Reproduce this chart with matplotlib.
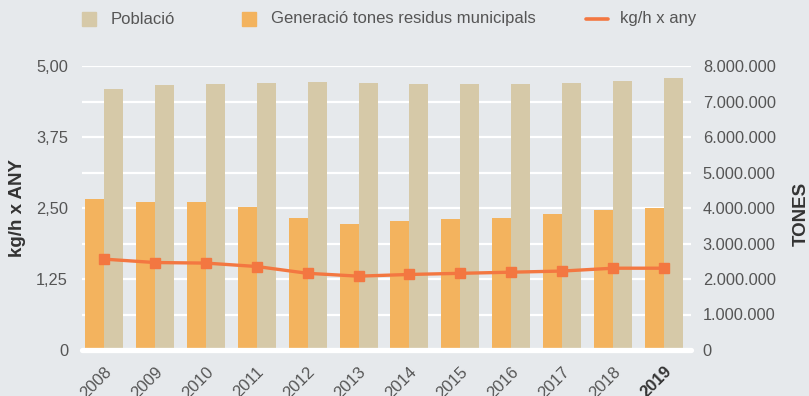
#!/usr/bin/env python

import matplotlib
matplotlib.use('Agg')
import matplotlib.pyplot as plt
import numpy as np

from matplotlib.patches import Rectangle
from matplotlib.lines import Line2D
from matplotlib.ticker import FuncFormatter

YEARS = ['2008', '2009', '2010', '2011', '2012', '2013',
         '2014', '2015', '2016', '2017', '2018', '2019']

# habitants
POBLACIO = [7350000, 7465000, 7490000, 7520000, 7550000, 7520000,
            7490000, 7490000, 7495000, 7520000, 7580000, 7660000]

# tones de residus municipals
RESIDUS = [4250000, 4170000, 4170000, 4030000, 3720000, 3550000,
           3630000, 3690000, 3720000, 3830000, 3940000, 4000000]

# kg/h x any
KG_HAB = [1.60, 1.54, 1.53, 1.47, 1.35, 1.30,
          1.33, 1.35, 1.37, 1.39, 1.44, 1.44]

LEFT_TICKS = [0, 1.25, 2.50, 3.75, 5.00]
RIGHT_TICKS = [0, 1e6, 2e6, 3e6, 4e6, 5e6, 6e6, 7e6, 8e6]

BG = '#e6e9ec'
BEIGE = '#d6c9a8'
ORANGE = '#f3b35e'
RED = '#f37741'
TEXT = '#555555'
FONT = 'Liberation Sans'

W, H = 809, 396


def px(x, y):
    """Pixel position (from top-left) to figure coordinates."""
    return x / W, 1 - y / H


def fmt_left(v, pos):
    if v == 0:
        return '0'
    return ('%.2f' % v).replace('.', ',')


def fmt_right(v, pos):
    return '{:,.0f}'.format(v).replace(',', '.')


def main():
    plt.rcParams['font.family'] = FONT

    fig = plt.figure(figsize=(W / 100, H / 100), dpi=100, facecolor=BG)
    ax2 = fig.add_axes([82 / W, 46 / H, 609 / W, 284 / H])
    ax = ax2.twinx()
    ax.set_zorder(ax2.get_zorder() + 1)
    ax.patch.set_visible(False)
    ax2.patch.set_visible(False)

    x = np.arange(len(YEARS))
    width = 0.373

    # gridlines and bars on the tones axis
    for v in RIGHT_TICKS[1:]:
        ax2.axhline(v, color='white', lw=1.6, zorder=0)
    ax2.bar(x - width / 2, RESIDUS, width, color=ORANGE, zorder=2)
    ax2.bar(x + width / 2, POBLACIO, width, color=BEIGE, zorder=2)

    # kg per habitant line
    ax.plot(x, KG_HAB, color=RED, lw=2.4, marker='s', markersize=7.5,
            zorder=5)
    ax.axhline(0, color='white', lw=3.8, solid_capstyle='round',
               clip_on=False, zorder=4)

    for a in (ax, ax2):
        for s in a.spines.values():
            s.set_visible(False)
        a.set_xlim(-0.432, 11.53)

    ax.set_ylim(0, 5)
    ax2.set_ylim(0, 8e6)

    # left axis lives on the twin (right side by default), move it
    ax.yaxis.tick_left()
    ax2.yaxis.tick_right()
    ax.set_yticks(LEFT_TICKS)
    ax.yaxis.set_major_formatter(FuncFormatter(fmt_left))
    ax2.set_yticks(RIGHT_TICKS)
    ax2.yaxis.set_major_formatter(FuncFormatter(fmt_right))
    ax.tick_params(axis='y', length=0, pad=10, labelsize=11.8,
                   labelcolor=TEXT)
    ax2.tick_params(axis='y', length=0, pad=8.5, labelsize=11.8,
                    labelcolor=TEXT)

    ax.set_xticks([])
    ax2.set_xticks(x + 0.2)
    ax2.set_xticklabels(YEARS, rotation=45, ha='right', va='top')
    ax2.tick_params(axis='x', length=0, pad=10, labelsize=12,
                    labelcolor=TEXT)
    last = ax2.get_xticklabels()[-1]
    last.set_fontweight('bold')
    last.set_color('#333333')

    # axis titles
    fig.text(*px(18, 208), 'kg/h x ANY', rotation=90, ha='center',
             va='center', fontsize=13.5, fontweight='bold', color='#333333')
    fig.text(*px(801, 214), 'TONES', rotation=90, ha='center',
             va='center', fontsize=13.5, fontweight='bold', color='#333333')

    # legend
    fig.add_artist(Rectangle(px(82, 26), 14 / W, 14 / H, color=BEIGE,
                             transform=fig.transFigure))
    fig.text(*px(111, 19), 'Població', ha='left', va='center',
             fontsize=12, color=TEXT)
    fig.add_artist(Rectangle(px(242, 26), 14 / W, 14 / H, color=ORANGE,
                             transform=fig.transFigure))
    fig.text(*px(271, 19), 'Generació tones residus municipals', ha='left',
             va='center', fontsize=12, color=TEXT)
    (x0, y0), (x1, _) = px(586, 19), px(608, 19)
    fig.add_artist(Line2D([x0, x1], [y0, y0], color=RED, lw=2.6,
                          solid_capstyle='round', transform=fig.transFigure))
    fig.text(*px(620, 19), 'kg/h x any', ha='left', va='center',
             fontsize=12, color=TEXT)

    fig.savefig('out.png', dpi=100, facecolor=BG)


if __name__ == '__main__':
    main()
